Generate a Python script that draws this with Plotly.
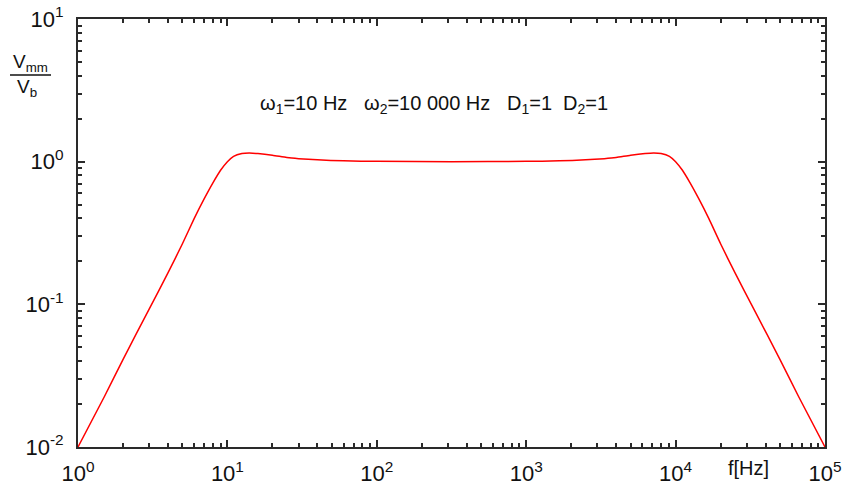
import plotly.graph_objects as go

# Frequency response of the band-pass: amplitude ratio Vmm/Vb versus frequency
freq_hz = [1, 1.5, 2, 3, 4, 5, 6, 7, 8, 9, 10, 11, 12.5, 14, 16, 20, 25, 30, 40,
           60, 100, 316, 1000, 1667, 2500, 3333, 4000, 5000, 6250, 7143, 8000,
           9091, 10000, 11111, 12500, 14286, 16667, 20000, 25000, 33333, 50000,
           66667, 100000]
amp_ratio = [0.01, 0.0225, 0.041, 0.093, 0.166, 0.266, 0.40, 0.55, 0.71, 0.87, 1.0,
             1.09, 1.14, 1.15, 1.14, 1.11, 1.07, 1.05, 1.03, 1.013, 1.005, 1.0,
             1.005, 1.013, 1.03, 1.05, 1.07, 1.11, 1.14, 1.15, 1.14, 1.09, 1.0,
             0.87, 0.71, 0.55, 0.40, 0.266, 0.166, 0.093, 0.041, 0.0225, 0.01]

x_tick_vals = [1, 10, 100, 1000, 10000, 100000]
x_tick_text = ["10<sup>0</sup>", "10<sup>1</sup>", "10<sup>2</sup>",
               "10<sup>3</sup>", "10<sup>4</sup>", "10<sup>5</sup>"]
y_tick_vals = [0.01, 0.1, 1, 10]
y_tick_text = ["10<sup>-2</sup>", "10<sup>-1</sup>", "10<sup>0</sup>", "10<sup>1</sup>"]

W, H = 843, 486
L, R, T, B = 78, 18, 19, 39
pw, ph = W - L - R, H - T - B


def px(x):
    return (x - L) / pw


def py(y):
    return (H - B - y) / ph


FONT = "Liberation Sans, Arial, sans-serif"
AX = "#2a2a2a"

fig = go.Figure()
fig.add_trace(go.Scatter(x=freq_hz, y=amp_ratio, mode="lines",
                         line=dict(color="#ff0000", width=1.5, shape="spline", smoothing=0.6),
                         showlegend=False, hoverinfo="x+y"))

minor_vals_x = [m * 10 ** k for k in range(5) for m in range(2, 10)]
minor_vals_y = [m * 10.0 ** k for k in range(-2, 1) for m in range(2, 10)]

common = dict(showgrid=False, zeroline=False, showline=True, linecolor=AX, linewidth=2,
              mirror="ticks", ticks="inside", ticklen=7, tickwidth=2, tickcolor=AX,
              automargin=False,
              tickfont=dict(family=FONT, size=22, color="#111"))

fig.update_xaxes(type="log", range=[0, 5], tickmode="array", tickvals=x_tick_vals,
                 ticktext=x_tick_text, ticklabelstandoff=6,
                 minor=dict(tickmode="array", tickvals=minor_vals_x, ticks="inside",
                            ticklen=4, tickwidth=1.5, tickcolor=AX, showgrid=False),
                 **common)
fig.update_yaxes(type="log", range=[-2, 1], tickmode="array", tickvals=y_tick_vals,
                 ticktext=y_tick_text, ticklabelstandoff=8,
                 minor=dict(tickmode="array", tickvals=minor_vals_y, ticks="inside",
                            ticklen=4, tickwidth=1.5, tickcolor=AX, showgrid=False),
                 **common)

annotations = [
    dict(x=px(434), y=py(104), text="ω<sub>1</sub>=10 Hz   ω<sub>2</sub>=10 000 Hz   "
                                    "D<sub>1</sub>=1  D<sub>2</sub>=1",
         font=dict(family=FONT, size=20, color="#111")),
    dict(x=px(748), y=py(468), text="f[Hz]", font=dict(family=FONT, size=20, color="#111")),
    dict(x=px(31), y=py(63), text="V<sub>mm</sub>", font=dict(family=FONT, size=19, color="#111")),
    dict(x=px(27), y=py(88), text="V<sub>b</sub>", font=dict(family=FONT, size=19, color="#111")),
]
for a in annotations:
    a.update(xref="paper", yref="paper", showarrow=False, xanchor="center", yanchor="middle")

fig.add_shape(type="line", xref="paper", yref="paper", x0=px(10), x1=px(51),
              y0=py(75), y1=py(75), line=dict(color="#111", width=1.5))

fig.update_layout(width=W, height=H, margin=dict(l=L, r=R, t=T, b=B, autoexpand=False),
                  paper_bgcolor="white", plot_bgcolor="white",
                  annotations=annotations, font=dict(family=FONT))

fig.write_html("out.html")
